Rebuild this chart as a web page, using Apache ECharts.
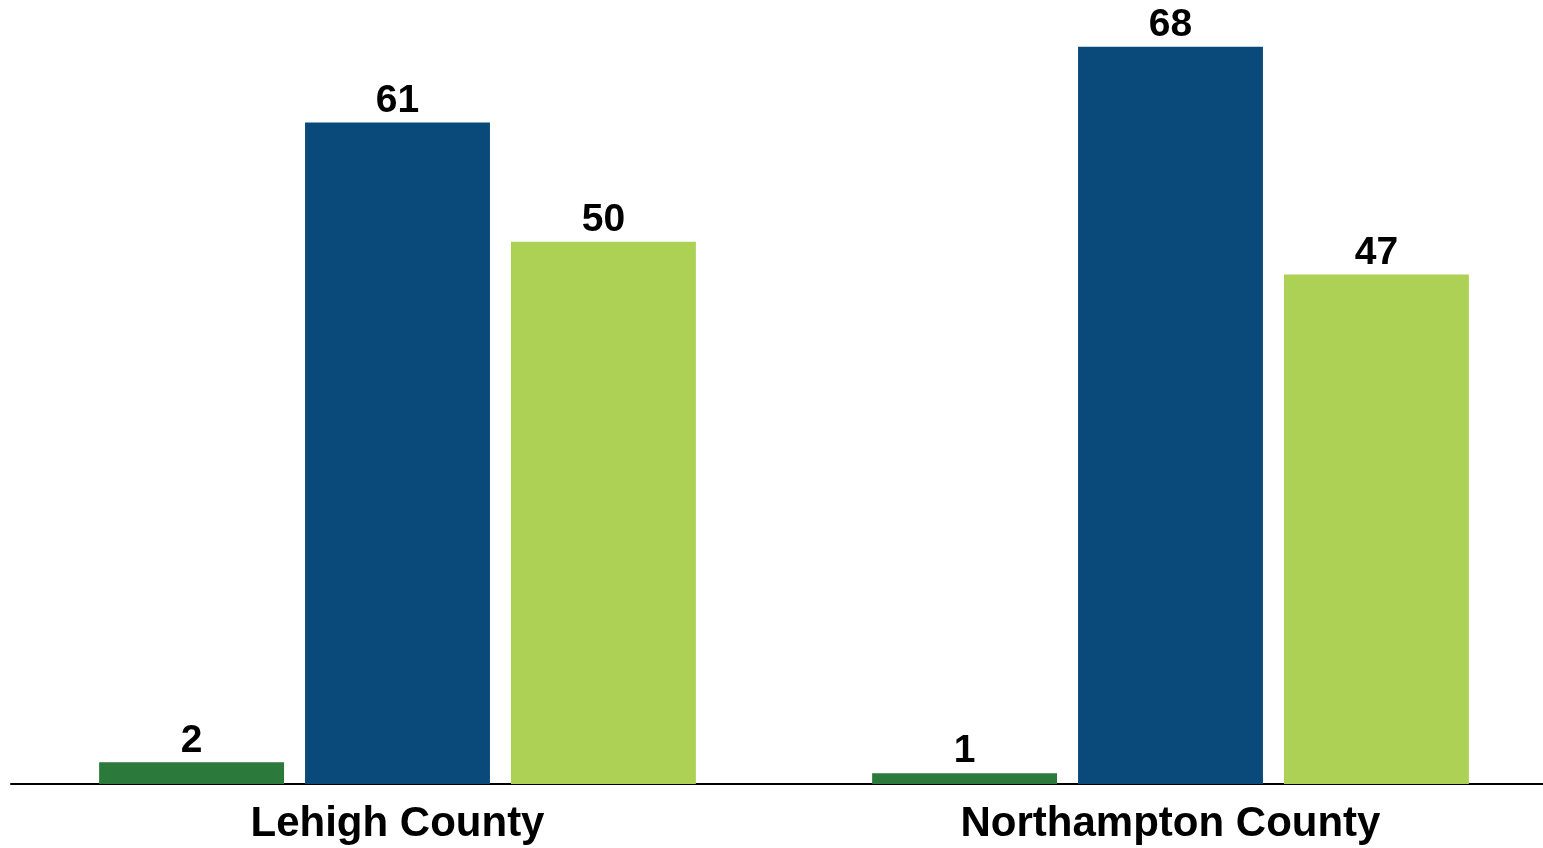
<!DOCTYPE html>
<html>
<head>
<meta charset="utf-8">
<script src="https://cdn.jsdelivr.net/npm/echarts@6/dist/echarts.min.js"></script>
<style>html,body{margin:0;padding:0;background:#fff;}#c{width:1543px;height:848px;}</style>
</head>
<body>
<div id="c"></div>
<script>
const categories = ['Lehigh County', 'Northampton County'];
const seriesA = [2, 1];
const seriesB = [61, 68];
const seriesC = [50, 47];
const seriesNames = ['Series A', 'Series B', 'Series C'];
const colors = ['#2b7a3b', '#0a4a7a', '#acd155'];

const chart = echarts.init(document.getElementById('c'), null, {renderer: 'canvas'});
const labelStyle = {
  show: true, position: 'top', distance: 2,
  fontFamily: 'Liberation Sans, Arial, sans-serif', fontWeight: 'bold', fontSize: 39, color: '#000'
};
const mk = (name, data, color) => ({
  name, type: 'bar', data, barGap: '11.35%', barCategoryGap: '22.8%',
  itemStyle: {color}, label: labelStyle, emphasis: {disabled: true}
});
chart.setOption({
  animation: false,
  grid: {left: 11, width: 1546, top: 25, bottom: 64, containLabel: false, outerBoundsMode: 'none'},
  xAxis: {
    type: 'category', data: categories,
    axisLine: {lineStyle: {color: '#000', width: 2}},
    axisTick: {show: false},
    axisLabel: {fontFamily: 'Liberation Sans, Arial, sans-serif', fontWeight: 'bold', fontSize: 42, color: '#000', margin: 19}
  },
  yAxis: {type: 'value', min: 0, max: 70, show: false, splitLine: {show: false}},
  series: [mk(seriesNames[0], seriesA, colors[0]), mk(seriesNames[1], seriesB, colors[1]), mk(seriesNames[2], seriesC, colors[2])]
});
</script>
</body>
</html>
